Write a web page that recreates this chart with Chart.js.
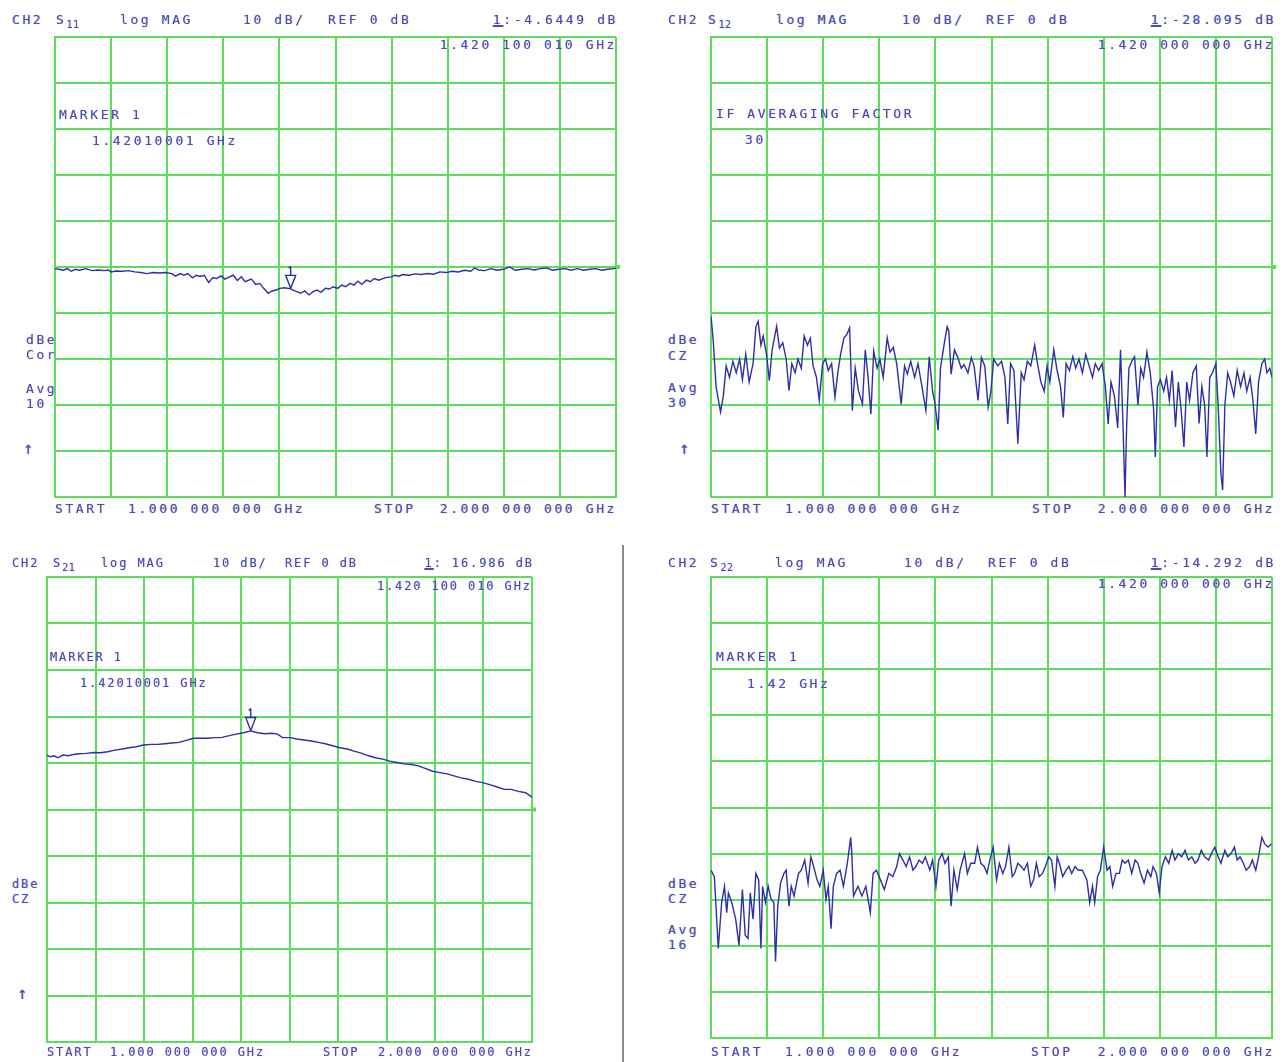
<!DOCTYPE html>
<html lang="en">
<head>
<meta charset="UTF-8">
<title>CH2 S-parameter sweeps</title>
<script src="https://cdn.jsdelivr.net/npm/chart.js"></script>
<style>
    body {
        margin: 0;
        width: 1284px;
        height: 1062px;
        background: #ffffff;
        position: relative;
        overflow: hidden;
        font-family: 'DejaVu Sans Mono', monospace;
    }

    canvas.plot {
        position: absolute;
    }

    .t {
        position: absolute;
        font-size: 13px;
        line-height: 14px;
        letter-spacing: 2.6px;
        color: #4b4bb2;
        white-space: pre;
        text-shadow: 0 0 1px rgba(75, 75, 178, 0.55);
    }

    /* bottom-left panel is drawn narrower */
    .n {
        font-size: 12px;
        letter-spacing: 1.9px;
    }

    .up {
        font-size: 17px;
        line-height: 17px;
    }

    .t sub {
        font-size: 10px;
        letter-spacing: 0.5px;
        vertical-align: -4px;
        line-height: 0;
    }

    .mk {
        text-decoration: underline;
        text-decoration-thickness: 2px;
    }

    #sep {
        position: absolute;
        left: 622px;
        top: 545px;
        width: 2px;
        height: 517px;
        background: #8a8a8a;
    }
</style>
</head>

<body>
    <!-- S11, top left -->
    <canvas id="s11" class="plot" width="569" height="468" style="left:51px;top:33px"></canvas>
    <div class="t" style="left:12px;top:13px">CH2</div>
    <div class="t" style="left:56px;top:13px">S<sub>11</sub></div>
    <div class="t" style="left:120px;top:13px">log MAG</div>
    <div class="t" style="left:243px;top:13px">10 dB/</div>
    <div class="t" style="left:328px;top:13px">REF 0 dB</div>
    <div class="t" style="right:666px;top:13px"><span class="mk">1</span>:-4.6449 dB</div>
    <div class="t" style="right:667px;top:38px">1.420 100 010 GHz</div>
    <div class="t" style="left:59px;top:108px">MARKER 1</div>
    <div class="t" style="left:92px;top:134px">1.42010001 GHz</div>
    <div class="t" style="left:26px;top:333px">dBe</div>
    <div class="t" style="left:26px;top:348px">Cor</div>
    <div class="t" style="left:26px;top:382px">Avg</div>
    <div class="t" style="left:26px;top:397px">10</div>
    <div class="t up" style="left:23px;top:440px">↑</div>
    <div class="t" style="left:55px;top:502px">START</div>
    <div class="t" style="left:128px;top:502px">1.000 000 000 GHz</div>
    <div class="t" style="left:374px;top:502px">STOP</div>
    <div class="t" style="right:667px;top:502px">2.000 000 000 GHz</div>

    <!-- S12, top right -->
    <canvas id="s12" class="plot" width="569" height="468" style="left:707px;top:33px"></canvas>
    <div class="t" style="left:668px;top:13px">CH2</div>
    <div class="t" style="left:708px;top:13px">S<sub>12</sub></div>
    <div class="t" style="left:776px;top:13px">log MAG</div>
    <div class="t" style="left:902px;top:13px">10 dB/</div>
    <div class="t" style="left:986px;top:13px">REF 0 dB</div>
    <div class="t" style="right:8px;top:13px"><span class="mk">1</span>:-28.095 dB</div>
    <div class="t" style="right:9px;top:38px">1.420 000 000 GHz</div>
    <div class="t" style="left:716px;top:107px">IF AVERAGING FACTOR</div>
    <div class="t" style="left:745px;top:133px">30</div>
    <div class="t" style="left:668px;top:333px">dBe</div>
    <div class="t" style="left:668px;top:349px">CZ</div>
    <div class="t" style="left:668px;top:381px">Avg</div>
    <div class="t" style="left:668px;top:396px">30</div>
    <div class="t up" style="left:679px;top:440px">↑</div>
    <div class="t" style="left:711px;top:502px">START</div>
    <div class="t" style="left:785px;top:502px">1.000 000 000 GHz</div>
    <div class="t" style="left:1032px;top:502px">STOP</div>
    <div class="t" style="right:9px;top:502px">2.000 000 000 GHz</div>

    <!-- S21, bottom left -->
    <canvas id="s21" class="plot" width="493" height="473" style="left:43px;top:573px"></canvas>
    <div class="t n" style="left:12px;top:556px">CH2</div>
    <div class="t n" style="left:53px;top:556px">S<sub>21</sub></div>
    <div class="t n" style="left:101px;top:556px">log MAG</div>
    <div class="t n" style="left:213px;top:556px">10 dB/</div>
    <div class="t n" style="left:285px;top:556px">REF 0 dB</div>
    <div class="t n" style="right:750px;top:556px"><span class="mk">1</span>: 16.986 dB</div>
    <div class="t n" style="right:752px;top:579px">1.420 100 010 GHz</div>
    <div class="t n" style="left:50px;top:650px">MARKER 1</div>
    <div class="t n" style="left:80px;top:676px">1.42010001 GHz</div>
    <div class="t n" style="left:12px;top:877px">dBe</div>
    <div class="t n" style="left:12px;top:892px">CZ</div>
    <div class="t n up" style="left:17px;top:985px">↑</div>
    <div class="t n" style="left:47px;top:1045px">START</div>
    <div class="t n" style="left:110px;top:1045px">1.000 000 000 GHz</div>
    <div class="t n" style="left:323px;top:1045px">STOP</div>
    <div class="t n" style="right:751px;top:1045px">2.000 000 000 GHz</div>

    <div id="sep"></div>

    <!-- S22, bottom right -->
    <canvas id="s22" class="plot" width="569" height="469" style="left:707px;top:573px"></canvas>
    <div class="t" style="left:668px;top:556px">CH2</div>
    <div class="t" style="left:710px;top:556px">S<sub>22</sub></div>
    <div class="t" style="left:775px;top:556px">log MAG</div>
    <div class="t" style="left:904px;top:556px">10 dB/</div>
    <div class="t" style="left:988px;top:556px">REF 0 dB</div>
    <div class="t" style="right:8px;top:556px"><span class="mk">1</span>:-14.292 dB</div>
    <div class="t" style="right:9px;top:577px">1.420 000 000 GHz</div>
    <div class="t" style="left:716px;top:650px">MARKER 1</div>
    <div class="t" style="left:747px;top:677px">1.42 GHz</div>
    <div class="t" style="left:668px;top:877px">dBe</div>
    <div class="t" style="left:668px;top:892px">CZ</div>
    <div class="t" style="left:668px;top:923px">Avg</div>
    <div class="t" style="left:668px;top:938px">16</div>
    <div class="t" style="left:711px;top:1045px">START</div>
    <div class="t" style="left:785px;top:1045px">1.000 000 000 GHz</div>
    <div class="t" style="left:1031px;top:1045px">STOP</div>
    <div class="t" style="right:9px;top:1045px">2.000 000 000 GHz</div>

    <script>
        // sweep: 1.0 - 2.0 GHz, log MAG 10 dB/div, ref 0 dB at centre line
        const startGHz = 1.0;
        const stopGHz = 2.0;
        const dbTop = 50;
        const dbBottom = -50;

        // S11 (GHz, dB)
        const s11Freq = [
            1.000, 1.007, 1.015, 1.022, 1.029, 1.036, 1.044, 1.055, 1.066, 1.077,
            1.088, 1.095, 1.100, 1.109, 1.120, 1.131, 1.142, 1.153, 1.164, 1.175,
            1.186, 1.197, 1.208, 1.215, 1.223, 1.230, 1.237, 1.245, 1.252, 1.259,
            1.266, 1.274, 1.281, 1.288, 1.296, 1.303, 1.310, 1.318, 1.325, 1.332,
            1.339, 1.350, 1.358, 1.365, 1.372, 1.380, 1.387, 1.394, 1.401, 1.409,
            1.416, 1.420, 1.423, 1.431, 1.438, 1.445, 1.453, 1.460, 1.467, 1.474,
            1.482, 1.489, 1.496, 1.504, 1.511, 1.518, 1.526, 1.533, 1.540, 1.547,
            1.555, 1.562, 1.569, 1.577, 1.588, 1.599, 1.606, 1.613, 1.620, 1.631,
            1.642, 1.653, 1.664, 1.675, 1.686, 1.697, 1.708, 1.719, 1.730, 1.741,
            1.748, 1.755, 1.766, 1.777, 1.788, 1.799, 1.810, 1.821, 1.832, 1.843,
            1.854, 1.865, 1.876, 1.887, 1.898, 1.909, 1.920, 1.931, 1.942, 1.953,
            1.964, 1.974, 1.985, 1.996, 2.000
        ];
        const s11Mag = [
            -0.36, -0.5, -0.71, -0.36, -0.93, -0.5, -0.71, -0.36, -0.79, -0.64,
            -0.79, -0.64, -1.07, -0.86, -0.93, -0.79, -1.07, -1.21, -1.43, -1.21,
            -1.29, -1.21, -1.43, -2.0, -1.43, -1.79, -1.43, -2.36, -1.79, -2.07,
            -1.79, -3.36, -2.36, -2.5, -1.93, -2.64, -2.21, -1.79, -2.93, -2.14,
            -3.21, -2.64, -3.79, -3.57, -4.64, -5.71, -5.21, -5.0, -4.64, -4.5,
            -4.64, -4.64, -5.0, -5.36, -5.71, -5.21, -6.07, -5.36, -5.0, -5.5,
            -4.64, -4.79, -4.29, -4.64, -3.93, -4.29, -3.57, -3.93, -3.07, -3.79,
            -2.86, -3.21, -2.5, -2.86, -2.36, -2.14, -1.79, -2.0, -1.64, -1.79,
            -1.5, -1.64, -1.43, -1.57, -1.07, -1.21, -0.93, -1.07, -0.71, -0.93,
            -0.21, -0.64, -0.79, -0.36, -0.71, -0.5, 0.0, -0.71, -0.5, -0.36,
            -0.64, -0.36, -0.21, -0.71, -0.5, -0.36, -0.71, -0.36, -0.71, -0.5,
            -0.36, -0.71, -0.5, -0.36, -0.3
        ];

        // S12 (noisy, IF averaging 30)
        const s12Freq = [
            1.000, 1.004, 1.009, 1.017, 1.022, 1.027, 1.033, 1.039, 1.045, 1.051,
            1.056, 1.062, 1.068, 1.075, 1.080, 1.084, 1.089, 1.093, 1.099, 1.104,
            1.109, 1.117, 1.122, 1.128, 1.134, 1.139, 1.144, 1.150, 1.155, 1.161,
            1.166, 1.172, 1.177, 1.182, 1.188, 1.193, 1.199, 1.204, 1.209, 1.215,
            1.221, 1.226, 1.231, 1.237, 1.242, 1.247, 1.252, 1.257, 1.263, 1.270,
            1.275, 1.280, 1.285, 1.290, 1.296, 1.301, 1.307, 1.314, 1.319, 1.325,
            1.331, 1.339, 1.345, 1.350, 1.356, 1.363, 1.369, 1.376, 1.383, 1.389,
            1.395, 1.399, 1.405, 1.409, 1.416, 1.421, 1.424, 1.428, 1.434, 1.440,
            1.446, 1.451, 1.458, 1.464, 1.469, 1.476, 1.482, 1.488, 1.494, 1.499,
            1.504, 1.511, 1.518, 1.524, 1.529, 1.534, 1.540, 1.547, 1.553, 1.558,
            1.564, 1.570, 1.577, 1.582, 1.588, 1.594, 1.599, 1.604, 1.611, 1.617,
            1.623, 1.628, 1.633, 1.639, 1.645, 1.650, 1.656, 1.662, 1.668, 1.674,
            1.680, 1.685, 1.691, 1.697, 1.703, 1.708, 1.713, 1.719, 1.725, 1.730,
            1.734, 1.738, 1.741, 1.745, 1.750, 1.755, 1.761, 1.766, 1.771, 1.777,
            1.783, 1.789, 1.792, 1.796, 1.801, 1.807, 1.812, 1.817, 1.822, 1.828,
            1.833, 1.838, 1.843, 1.848, 1.853, 1.859, 1.865, 1.870, 1.875, 1.880,
            1.884, 1.889, 1.894, 1.900, 1.904, 1.909, 1.912, 1.916, 1.921, 1.926,
            1.932, 1.938, 1.944, 1.950, 1.955, 1.961, 1.966, 1.971, 1.976, 1.982,
            1.987, 1.991, 1.996, 2.000
        ];
        const s12Mag = [
            -10.7, -16, -26, -31.5, -28, -21.5, -24, -20.5, -23, -20,
            -24.5, -19, -25, -21, -13, -11.8, -17, -15, -19, -24.7,
            -18, -12.9, -17.6, -16.5, -20, -26.9, -21, -23, -20, -22,
            -15, -17, -15.5, -21.5, -24, -29, -21, -20, -22.5, -21,
            -28.3, -23, -19, -15.4, -14.7, -13.2, -31.2, -22, -27, -29.8,
            -18, -24, -32, -18.3, -22, -20, -24, -15.4, -18.5, -17.5,
            -21, -29.8, -21.5, -23.3, -20.5, -24, -21, -26, -31.2, -19.5,
            -27, -29.5, -35.5, -22, -16.5, -13, -14, -23.3, -18, -19.7,
            -22, -21.2, -23, -19.7, -21.5, -29, -19.7, -21.5, -30.5, -27,
            -20, -21.5, -20.5, -24, -34.1, -21, -22.5, -38.4, -23, -24.5,
            -20.5, -21.5, -17, -21, -25, -27, -21.5, -25, -18, -22.5,
            -26, -32.7, -21, -22.5, -19.5, -22, -20, -23, -19, -21.5,
            -24, -21, -22.5, -21, -26, -34.1, -25, -28, -35, -18,
            -32.7, -50, -34, -22, -20.5, -19.5, -30, -22, -24, -18.5,
            -23, -31, -41.3, -26, -24.5, -27, -24, -29, -22.5, -34.8,
            -25, -31, -39.1, -25, -29, -23, -21.5, -34, -26, -30,
            -41.3, -24, -23, -21, -30, -44.9, -48.5, -30, -23, -25,
            -28, -22.5, -26, -23, -27, -24, -29, -36.3, -25, -21,
            -20, -23, -22, -24
        ];

        // S21 (gain, marker 1 at 1.4201 GHz)
        const s21Freq = [
            1.000, 1.007, 1.015, 1.022, 1.033, 1.044, 1.055, 1.066, 1.081, 1.096,
            1.110, 1.125, 1.140, 1.155, 1.169, 1.184, 1.199, 1.214, 1.228, 1.243,
            1.258, 1.272, 1.287, 1.302, 1.317, 1.331, 1.346, 1.361, 1.376, 1.390,
            1.405, 1.420, 1.434, 1.449, 1.464, 1.475, 1.486, 1.501, 1.515, 1.530,
            1.545, 1.560, 1.574, 1.589, 1.604, 1.619, 1.633, 1.648, 1.663, 1.677,
            1.692, 1.707, 1.722, 1.736, 1.751, 1.766, 1.781, 1.795, 1.810, 1.825,
            1.839, 1.854, 1.869, 1.884, 1.898, 1.913, 1.928, 1.943, 1.957, 1.972,
            1.987, 2.000
        ];
        const s21Mag = [
            11.7, 11.34, 11.55, 11.12, 11.7, 11.55, 11.84, 11.99, 12.06, 12.27,
            12.2, 12.42, 12.78, 13.0, 13.29, 13.5, 13.86, 14.0, 14.0, 14.15,
            14.3, 14.44, 14.87, 15.31, 15.31, 15.31, 15.45, 15.52, 15.9, 16.2,
            16.5, 16.9, 16.5, 16.3, 16.4, 16.2, 15.45, 15.45, 15.16, 14.95,
            14.73, 14.44, 14.15, 13.72, 13.29, 13.0, 12.56, 12.13, 11.55, 11.12,
            10.83, 10.4, 10.11, 9.82, 9.68, 9.39, 8.81, 8.23, 7.94, 7.65,
            7.22, 6.79, 6.5, 6.06, 5.78, 5.34, 4.84, 4.33, 4.33, 3.9,
            3.61, 2.67
        ];

        // S22 (noisy, averaging 16)
        const s22Freq = [
            1.000, 1.006, 1.013, 1.019, 1.024, 1.028, 1.031, 1.037, 1.044, 1.050,
            1.056, 1.061, 1.066, 1.070, 1.075, 1.080, 1.085, 1.089, 1.092, 1.097,
            1.102, 1.107, 1.112, 1.115, 1.119, 1.124, 1.130, 1.134, 1.139, 1.143,
            1.148, 1.156, 1.161, 1.167, 1.173, 1.178, 1.183, 1.189, 1.194, 1.200,
            1.205, 1.209, 1.214, 1.218, 1.224, 1.230, 1.236, 1.243, 1.249, 1.251,
            1.254, 1.262, 1.269, 1.276, 1.284, 1.289, 1.295, 1.302, 1.309, 1.317,
            1.324, 1.331, 1.336, 1.342, 1.348, 1.354, 1.360, 1.365, 1.371, 1.377,
            1.382, 1.390, 1.395, 1.401, 1.406, 1.412, 1.417, 1.423, 1.428, 1.433,
            1.439, 1.444, 1.452, 1.457, 1.463, 1.470, 1.475, 1.481, 1.487, 1.492,
            1.497, 1.503, 1.509, 1.514, 1.520, 1.525, 1.531, 1.537, 1.541, 1.547,
            1.553, 1.558, 1.564, 1.570, 1.575, 1.580, 1.585, 1.591, 1.596, 1.602,
            1.607, 1.613, 1.617, 1.621, 1.627, 1.633, 1.638, 1.643, 1.649, 1.655,
            1.662, 1.670, 1.675, 1.680, 1.684, 1.689, 1.694, 1.700, 1.706, 1.711,
            1.716, 1.722, 1.728, 1.733, 1.738, 1.744, 1.750, 1.756, 1.761, 1.766,
            1.772, 1.778, 1.784, 1.788, 1.794, 1.799, 1.804, 1.810, 1.816, 1.822,
            1.827, 1.833, 1.839, 1.845, 1.851, 1.857, 1.863, 1.868, 1.874, 1.880,
            1.887, 1.892, 1.898, 1.904, 1.909, 1.916, 1.921, 1.927, 1.933, 1.938,
            1.943, 1.949, 1.954, 1.960, 1.965, 1.971, 1.976, 1.982, 1.987, 1.993,
            1.999
        ];
        const s22Mag = [
            -13.6, -15.0, -30.6, -20.6, -17.1, -22.8, -18.5, -20.6, -24.2, -29.9,
            -17.8, -27.7, -28.4, -18.5, -24.2, -14.3, -15.7, -30.6, -17.1, -20.6,
            -17.1, -19.9, -20.6, -33.4, -21.4, -16.4, -14.3, -13.6, -21.4, -17.1,
            -19.2, -14.3, -13.6, -11.4, -16.4, -10.7, -12.8, -15.7, -17.1, -13.6,
            -19.9, -17.1, -26.3, -17.1, -14.3, -13.6, -17.1, -12.1, -6.5, -10.0,
            -19.2, -17.1, -19.2, -17.1, -22.8, -14.3, -13.6, -15.7, -17.8, -14.3,
            -15.0, -12.8, -10.0, -11.4, -12.8, -10.7, -13.6, -12.8, -11.4, -12.1,
            -10.7, -13.6, -11.4, -17.1, -11.4, -10.0, -12.1, -10.7, -21.4, -13.6,
            -17.8, -13.6, -10.0, -14.3, -12.1, -12.1, -8.6, -12.1, -12.8, -14.3,
            -11.4, -8.6, -15.7, -12.1, -14.3, -12.8, -8.6, -15.0, -14.3, -12.1,
            -12.8, -13.6, -12.1, -17.1, -15.7, -12.1, -15.0, -14.3, -12.8, -10.7,
            -11.4, -17.1, -10.7, -12.1, -15.0, -13.6, -12.8, -14.3, -12.8, -13.6,
            -13.6, -15.7, -20.6, -17.1, -20.6, -15.0, -13.6, -8.6, -13.6, -12.8,
            -17.1, -14.3, -14.3, -11.4, -12.1, -11.4, -14.3, -11.4, -12.1, -14.3,
            -16.4, -13.6, -15.0, -12.8, -14.3, -18.5, -12.8, -10.7, -12.1, -9.3,
            -11.4, -10.0, -10.7, -9.3, -11.4, -10.7, -12.1, -11.4, -9.3, -10.7,
            -11.4, -10.0, -8.6, -10.7, -12.1, -9.3, -10.7, -10.0, -8.6, -11.4,
            -10.7, -12.1, -13.6, -12.8, -11.4, -13.6, -10.7, -6.5, -7.9, -8.6,
            -7.9
        ];

        // marker 1 readouts
        const s11Marker = { freq: 1.4201, mag: -4.6449 };
        const s21Marker = { freq: 1.4201, mag: 16.986 };

        const gridGreen = 'rgb(92, 222, 92)';
        const traceBlue = 'rgb(46, 46, 170)';

        // draws the marker triangle and the green reference-level tick
        const vnaMarks = {
            id: 'vnaMarks',
            afterDatasetsDraw(chart, args, opts) {
                const ctx = chart.ctx;
                const xs = chart.scales.x;
                const ys = chart.scales.y;
                ctx.save();
                if (opts.ref) {
                    ctx.fillStyle = gridGreen;
                    ctx.fillRect(chart.chartArea.right + 1, ys.getPixelForValue(0) - 2, 4, 4);
                }
                if (opts.marker) {
                    const px = xs.getPixelForValue(opts.marker.freq);
                    const py = ys.getPixelForValue(opts.marker.mag);
                    ctx.strokeStyle = traceBlue;
                    ctx.lineWidth = 1.4;
                    ctx.beginPath();
                    ctx.moveTo(px, py);
                    ctx.lineTo(px - 5, py - 13);
                    ctx.lineTo(px + 5, py - 13);
                    ctx.closePath();
                    ctx.moveTo(px, py - 13);
                    ctx.lineTo(px, py - 22);
                    ctx.moveTo(px - 2, py - 20);
                    ctx.lineTo(px, py - 22);
                    ctx.stroke();
                }
                ctx.restore();
            }
        };

        function sweepChart(id, freq, mag, marks) {
            const ctx = document.getElementById(id).getContext('2d');
            return new Chart(ctx, {
                type: 'line',
                data: {
                    datasets: [{
                        data: freq.map((f, i) => ({ x: f, y: mag[i] })),
                        borderColor: traceBlue,
                        borderWidth: 1.4,
                        pointRadius: 0,
                        tension: 0
                    }]
                },
                options: {
                    responsive: false,
                    animation: false,
                    events: [],
                    layout: { padding: 4 },
                    plugins: {
                        legend: { display: false },
                        tooltip: { enabled: false },
                        vnaMarks: marks
                    },
                    scales: {
                        x: {
                            type: 'linear',
                            min: startGHz,
                            max: stopGHz,
                            ticks: { display: false, stepSize: 0.1 },
                            grid: { color: gridGreen, lineWidth: 2, drawTicks: false },
                            border: { color: gridGreen, width: 2 }
                        },
                        y: {
                            min: dbBottom,
                            max: dbTop,
                            ticks: { display: false, stepSize: 10 },
                            grid: { color: gridGreen, lineWidth: 2, drawTicks: false },
                            border: { color: gridGreen, width: 2 }
                        }
                    }
                },
                plugins: [vnaMarks]
            });
        }

        sweepChart('s11', s11Freq, s11Mag, { ref: true, marker: s11Marker });
        sweepChart('s12', s12Freq, s12Mag, { ref: true });
        sweepChart('s21', s21Freq, s21Mag, { ref: true, marker: s21Marker });
        sweepChart('s22', s22Freq, s22Mag, { ref: false });
    </script>
</body>

</html>
